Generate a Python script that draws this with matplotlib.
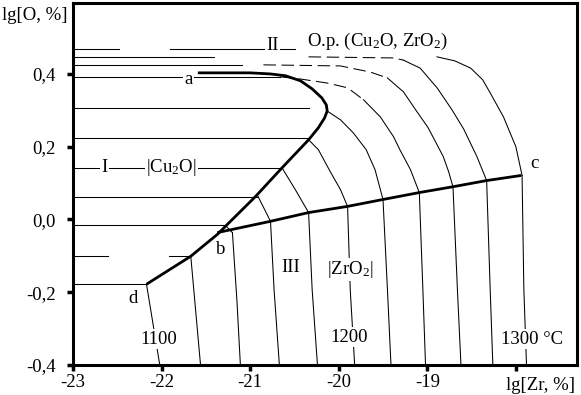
import numpy as np
import matplotlib
matplotlib.use("Agg")
import matplotlib.pyplot as plt

plt.rcParams['font.family'] = ['Liberation Serif', 'DejaVu Serif']
plt.rcParams['mathtext.fontset'] = 'custom'
plt.rcParams['mathtext.rm'] = 'Liberation Serif'
plt.rcParams['mathtext.it'] = 'Liberation Serif:italic'
plt.rcParams['lines.scale_dashes'] = False

nan = np.nan

# thick boundaries: d - b - a (Cu2O) and b - c (ZrO2)
cu2o_x = [-22.17, -21.67, -21.37, -21.28, -20.94, -20.64, -20.34, -20.23, -20.16,
          -20.13, -20.14, -20.19, -20.30, -20.43, -20.60, -20.77, -21.00, -21.59]
cu2o_y = [-0.178, -0.101, -0.041, -0.019, 0.063, 0.142, 0.219, 0.252, 0.279,
          0.298, 0.315, 0.334, 0.359, 0.381, 0.395, 0.400, 0.403, 0.403]
zro2_x = [-21.37, -20.77, -20.34, -19.90, -19.50, -19.09, -18.71, -18.33, -17.94]
zro2_y = [-0.036, -0.005, 0.019, 0.036, 0.055, 0.074, 0.090, 0.107, 0.121]

temps = [1100, 1120, 1140, 1160, 1180, 1200, 1220, 1240, 1260, 1280, 1300]

# region I (|Cu2O|): horizontal parts of the isotherms
hor_y = [-0.178, -0.099, -0.016, 0.063, 0.142, 0.225, 0.307, 0.392, 0.425, 0.447, 0.468]
hor_x = [
    [-23, -22.17],
    [-23, -22.61, nan, -21.92, -21.67],
    [-23, -21.27],
    [-23, -20.91],
    [-23, -20.64],
    [-23, -20.34],
    [-23, -20.34],
    [-23, -20.66],
    [-23, -21.09],
    [-23, -21.41],
    [-23, -22.485, nan, -21.90, -20.49],
]

# region II, broken (dashed) upper parts
dash_x = {1240: [-20.66, -20.43, -20.13, -19.90, -19.72],
          1260: [-20.85, -19.98, -19.64, -19.45],
          1280: [-20.34, -19.38, -19.27]}
dash_y = {1240: [0.392, 0.386, 0.375, 0.362, 0.329],
          1260: [0.425, 0.422, 0.405, 0.389],
          1280: [0.447, 0.444, 0.438]}

# region II, solid parts
mid_x = {1140: [-21.27, -21.20],
         1160: [-20.91, -20.77],
         1180: [-20.64, -20.49, -20.34],
         1200: [-20.34, -20.23, -20.09, -19.98, -19.90],
         1220: [-20.13, -19.98, -19.835, -19.69, -19.59, -19.50],
         1240: [-19.72, -19.53, -19.38, -19.31, -19.19, -19.09],
         1260: [-19.45, -19.27, -19.13, -18.99, -18.82, -18.76, -18.71],
         1280: [-19.27, -19.08, -18.89, -18.72, -18.59, -18.44, -18.33],
         1300: [-18.89, -18.69, -18.51, -18.375, -18.29, -18.14, -18.00, -17.93]}
mid_y = {1140: [-0.019, -0.036],
         1160: [0.063, -0.005],
         1180: [0.142, 0.082, 0.019],
         1200: [0.219, 0.192, 0.129, 0.082, 0.036],
         1220: [0.298, 0.274, 0.238, 0.192, 0.137, 0.055],
         1240: [0.329, 0.282, 0.227, 0.192, 0.137, 0.074],
         1260: [0.389, 0.351, 0.301, 0.252, 0.173, 0.132, 0.090],
         1280: [0.438, 0.416, 0.362, 0.301, 0.249, 0.173, 0.107],
         1300: [0.447, 0.436, 0.416, 0.384, 0.348, 0.282, 0.200, 0.121]}

# region III (|ZrO2|): near-vertical parts
low_x = [[-22.17, -22.02], [-21.67, -21.56], [-21.20, -21.15, -21.11],
         [-20.77, -20.73, -20.67], [-20.34, -20.30, -20.24], [-19.90, -19.87, -19.82],
         [-19.50, -19.45, -19.41], [-19.09, -19.05, -19.02], [-18.71, -18.66, -18.62],
         [-18.33, -18.29, -18.26], [-17.93, -17.91, -17.88]]
low_y = [[-0.178, -0.4], [-0.101, -0.4], [-0.036, -0.219, -0.4],
         [-0.005, -0.192, -0.4], [0.019, -0.192, -0.4], [0.036, -0.192, -0.4],
         [0.055, -0.192, -0.4], [0.074, -0.192, -0.4], [0.090, -0.192, -0.4],
         [0.107, -0.192, -0.4], [0.121, -0.192, -0.4]]

x_ticks = [-23, -22, -21, -20, -19, -18]
x_labels = ['-23', '-22', '-21', '-20', '-19', '']
y_ticks = [-0.4, -0.2, 0.0, 0.2, 0.4]
y_labels = ['-0,4', '-0,2', '0,0', '0,2', '0,4']

fig = plt.figure(figsize=(5.81, 3.95), dpi=100)
ax = fig.add_axes([0.1256, 0.0759, 0.8675, 0.9165])
ax.set_xlim(-23, -17.31)
ax.set_ylim(-0.4, 0.595)

thin = dict(color='black', lw=0.75, zorder=2)
for i, t in enumerate(temps):
    ax.plot(hor_x[i], [hor_y[i]] * len(hor_x[i]), **thin)
    if t in dash_x:
        ax.plot(dash_x[t], dash_y[t], ls=(0, (9, 4)), **thin)
    if t in mid_x:
        ax.plot(mid_x[t], mid_y[t], **thin)
    ax.plot(low_x[i], low_y[i], **thin)

ax.plot(cu2o_x, cu2o_y, color='black', lw=2.0, zorder=4, solid_capstyle='butt')
ax.plot(zro2_x, zro2_y, color='black', lw=2.0, zorder=4, solid_capstyle='butt')

box = dict(facecolor='white', edgecolor='none', pad=1.0)
fs = 13.5
ax.text(-21.695, 0.384, 'a', fontsize=fs, ha='center', va='center', bbox=box, zorder=3)
ax.text(-21.33, -0.082, 'b', fontsize=fs, ha='center', va='center', zorder=3)
ax.text(-17.795, 0.153, 'c', fontsize=fs, ha='center', va='center', zorder=3)
ax.text(-22.32, -0.216, 'd', fontsize=fs, ha='center', va='center', zorder=3)
ax.text(-22.64, 0.142, 'I', fontsize=fs, ha='center', va='center', bbox=box, zorder=3)
ax.text(-21.89, 0.142, r'|Cu$_\mathrm{2}$O|', fontsize=fs, ha='center', va='center', bbox=box, zorder=3)
ax.text(-20.75, 0.477, 'II', fontsize=fs, ha='center', va='center', bbox=box, zorder=3)
ax.text(-19.565, 0.490, r'O.p. (Cu$_\mathrm{2}$O, ZrO$_\mathrm{2}$)', fontsize=fs,
        ha='center', va='center', bbox=box, zorder=3)
ax.text(-20.545, -0.131, 'III', fontsize=fs, ha='center', va='center', bbox=box, zorder=3)
ax.text(-19.87, -0.137, r'|ZrO$_\mathrm{2}$|', fontsize=fs, ha='center', va='center', bbox=box, zorder=3)
ax.text(-22.03, -0.329, '1100', fontsize=fs, ha='center', va='center', bbox=box, zorder=3)
ax.text(-19.88, -0.323, '1200', fontsize=fs, ha='center', va='center', bbox=box, zorder=3)
ax.text(-17.82, -0.329, '1300 °C', fontsize=fs, ha='center', va='center', bbox=box, zorder=3)

ax.set_xticks(x_ticks)
ax.set_xticklabels(x_labels)
ax.set_yticks(y_ticks)
ax.set_yticklabels(y_labels)
ax.tick_params(direction='out', length=4.3, width=2.5, labelsize=fs)
ax.tick_params(axis='y', pad=8)
ax.tick_params(axis='x', pad=2)
for s in ax.spines.values():
    s.set_linewidth(2.2)

fig.text(2 / 581, 1 - 15 / 395, 'lg[O, %]', fontsize=fs, ha='left', va='center')
fig.text(541 / 581, 1 - 385 / 395, 'lg[Zr, %]', fontsize=fs, ha='center', va='center')

fig.savefig('out.png', dpi=100)
